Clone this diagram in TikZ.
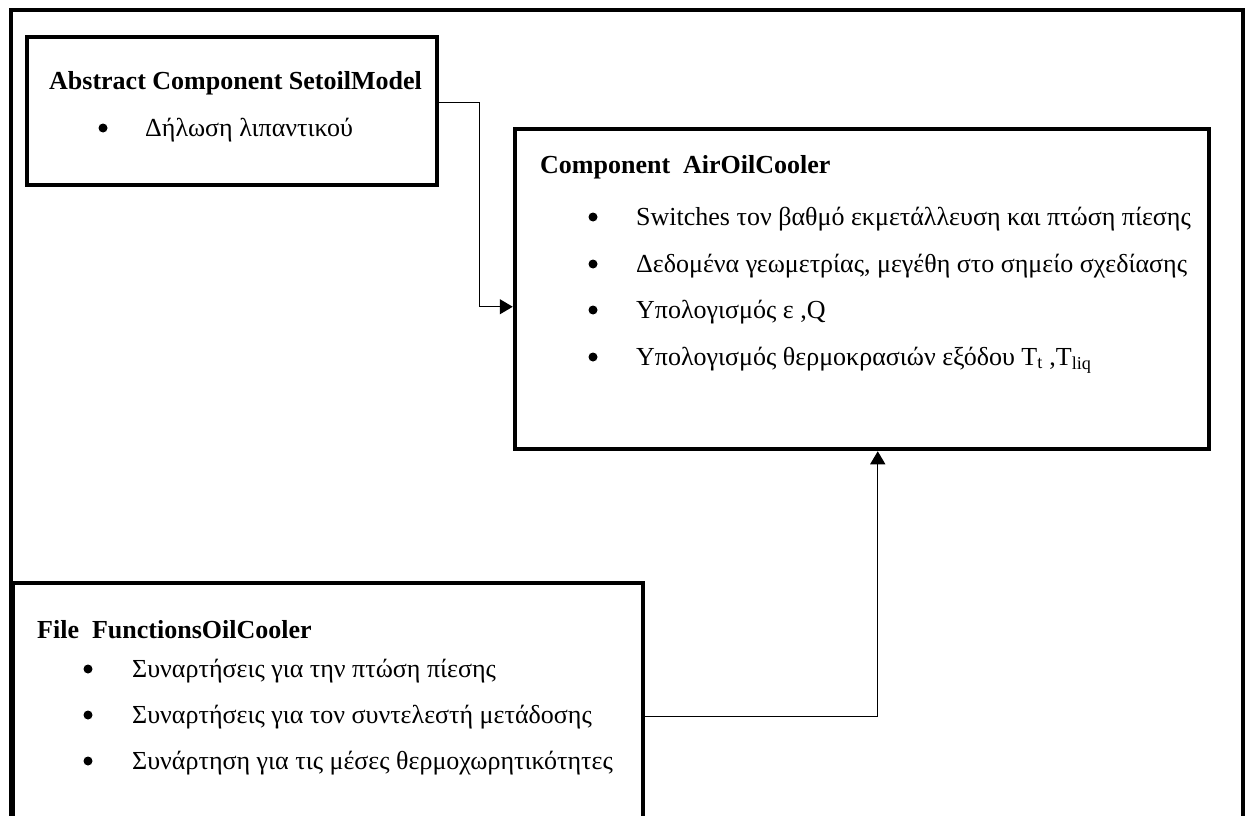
\documentclass[tikz,border=0pt]{standalone}
\usepackage{fontspec}
\setmainfont{Liberation Serif}
\usetikzlibrary{arrows.meta,calc}
\tikzset{
  frame/.style={line width=4.5pt},
  box/.style={draw,line width=4.5pt,rectangle,inner sep=0pt},
  conn/.style={line width=1.3pt,-{Triangle[length=13pt,width=15pt]}},
  ttl/.style={anchor=base west,inner sep=0pt,font=\fontsize{26}{30}\selectfont\bfseries},
  itm/.style={anchor=base west,inner sep=0pt,font=\fontsize{26}{30}\selectfont},
  bul/.style={anchor=center,inner sep=0pt,circle,fill,minimum size=9pt},
}
\begin{document}
\begin{tikzpicture}[x=1pt,y=-1pt]
\useasboundingbox (0,0) rectangle (1251,816);
\clip (0,0) rectangle (1251,816);
% outer frame
\draw[frame] (11,840) -- (11,10) -- (1243,10) -- (1243,840);
% boxes
\node[box,minimum width=410pt,minimum height=148pt] (b1) at (232,111) {};
\node[box,minimum width=694pt,minimum height=320pt] (b2) at (862,289) {};
\node[box,minimum width=630pt,minimum height=260pt] (b3) at (328,713) {};
% box 1 text
\node[ttl] (t1) at (49,89) {Abstract Component SetoilModel};
\node[bul] (u1) at (103,128) {};
\node[itm] (i1) at (145,136) {Δήλωση λιπαντικού};
% box 2 text
\node[ttl] (t2) at (540,173) {Component\ \ AirOilCooler};
\node[bul] (u21) at (593,217) {};
\node[itm] (i21) at (636,225) {Switches τον βαθμό εκμετάλλευση και πτώση πίεσης};
\node[bul] (u22) at (593,264) {};
\node[itm] (i22) at (636,272) {Δεδομένα γεωμετρίας, μεγέθη στο σημείο σχεδίασης};
\node[bul] (u23) at (593,310) {};
\node[itm] (i23) at (636,318) {Υπολογισμός ε ,Q};
\node[bul] (u24) at (593,357) {};
\node[itm] (i24) at (636,365) {Υπολογισμός θερμοκρασιών εξόδου T\textsubscript{t} ,T\textsubscript{liq}};
% box 3 text
\node[ttl] (t3) at (37,638) {File\ \ FunctionsOilCooler};
\node[bul] (u31) at (88,669) {};
\node[itm] (i31) at (132,677) {Συναρτήσεις για την πτώση πίεσης};
\node[bul] (u32) at (88,715) {};
\node[itm] (i32) at (132,723) {Συναρτήσεις για τον συντελεστή μετάδοσης};
\node[bul] (u33) at (88,761) {};
\node[itm] (i33) at (132,769) {Συνάρτηση για τις μέσες θερμοχωρητικότητες};
% connectors
\coordinate (c1) at ($(b1.north east)+(0,68)$);
\coordinate (c2) at ($(b3.north east)+(0,136)$);
\draw[conn] (c1) -- ++(40,0) |- ($(b2.north west)+(0,180)$);
\draw[conn] (c2) -| ($(b2.south west)+(365,0)$);
\end{tikzpicture}
\end{document}
